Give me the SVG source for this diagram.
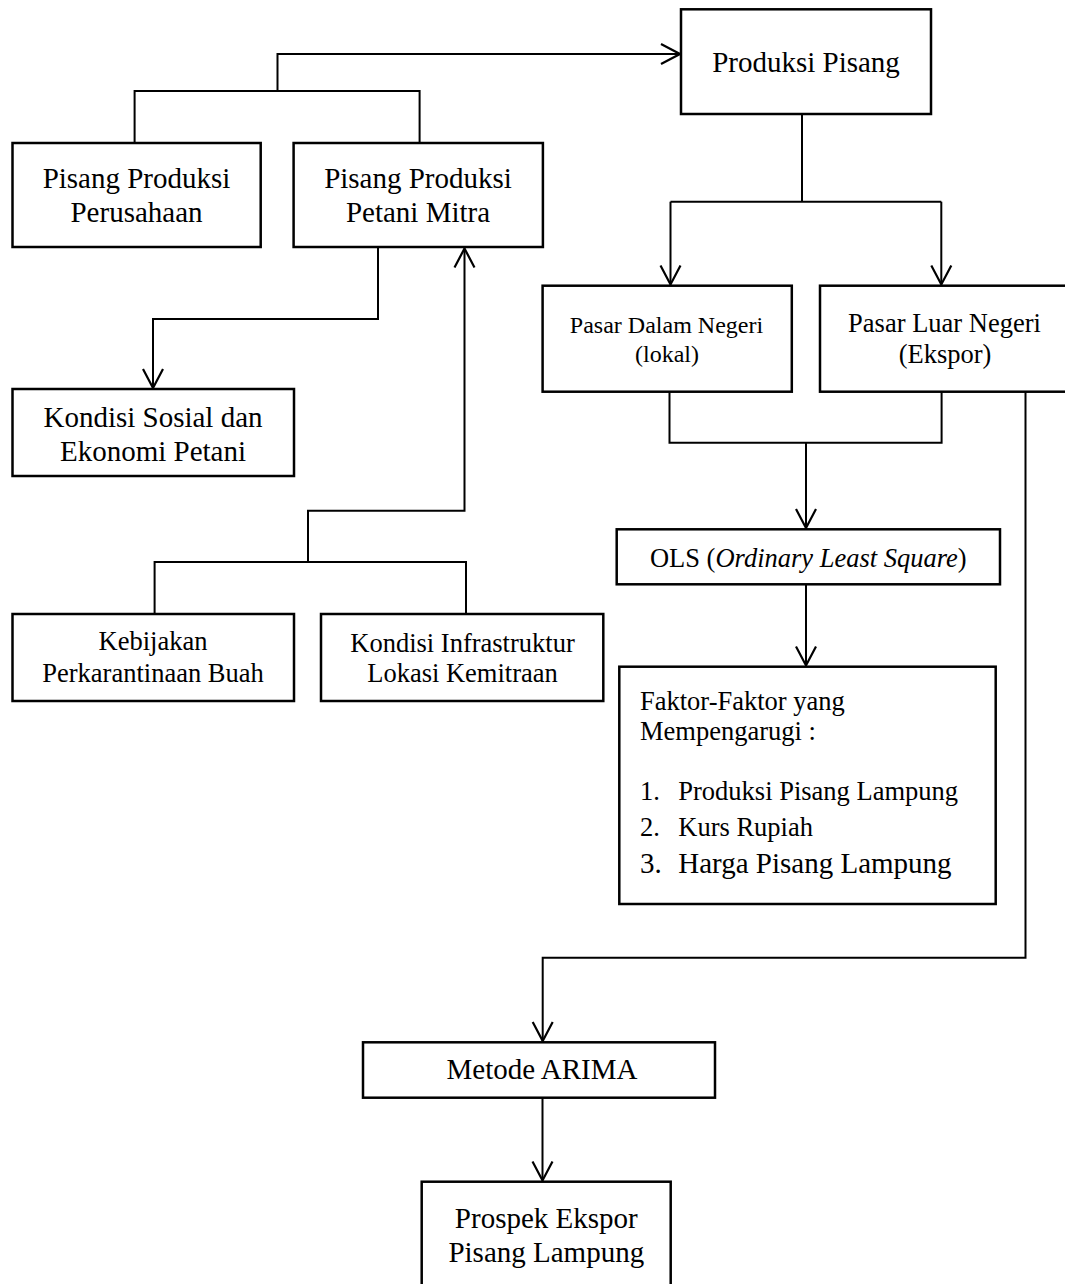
<svg xmlns="http://www.w3.org/2000/svg" width="1065" height="1284" viewBox="0 0 1065 1284">
<style>
  .box { fill: #ffffff; stroke: #000000; stroke-width: 2.5; }
  .ln { fill: none; stroke: #000000; stroke-width: 2; }
  text { font-family: "Liberation Serif", "Times New Roman", serif; fill: #000000; }
  .t29 { font-size: 29px; text-anchor: middle; }
  .t27 { font-size: 26.5px; text-anchor: middle; }
  .t24 { font-size: 24px; text-anchor: middle; }
  .l27 { font-size: 26.5px; }
  .l29 { font-size: 29px; }
</style>
<defs>
  <marker id="arr" viewBox="-22 -12 24 24" refX="0" refY="0" markerWidth="24" markerHeight="24" markerUnits="userSpaceOnUse" orient="auto">
    <path d="M -19,-10 L 0,0 L -19,10" fill="none" stroke="#000000" stroke-width="2.2"/>
  </marker>
</defs>
<rect width="1065" height="1284" fill="#ffffff"/>

<g id="connectors">
  <polyline class="ln" points="277.5,91 277.5,54 680,54" marker-end="url(#arr)"/>
  <polyline class="ln" points="134.6,143 134.6,91 419.6,91 419.6,143"/>
  <polyline class="ln" points="802,114 802,201.7"/>
  <polyline class="ln" points="670.5,201.7 941.3,201.7"/>
  <line class="ln" x1="670.5" y1="201.7" x2="670.5" y2="284.5" marker-end="url(#arr)"/>
  <line class="ln" x1="941.3" y1="201.7" x2="941.3" y2="284.5" marker-end="url(#arr)"/>
  <polyline class="ln" points="669.5,391.7 669.5,442.7 941.6,442.7 941.6,391.7"/>
  <line class="ln" x1="806" y1="442.7" x2="806" y2="528" marker-end="url(#arr)"/>
  <line class="ln" x1="806" y1="584.3" x2="806" y2="665.5" marker-end="url(#arr)"/>
  <polyline class="ln" points="1025.5,391.7 1025.5,957.7 542.7,957.7 542.7,1041" marker-end="url(#arr)"/>
  <line class="ln" x1="542.5" y1="1097.7" x2="542.5" y2="1180.5" marker-end="url(#arr)"/>
  <polyline class="ln" points="378,247 378,319 153,319 153,388" marker-end="url(#arr)"/>
  <polyline class="ln" points="308,562 308,510.7 464.5,510.7 464.5,248.5" marker-end="url(#arr)"/>
  <polyline class="ln" points="154.6,614 154.6,562 466,562 466,614"/>
</g>

<g id="produksi-pisang">
  <rect class="box" x="681" y="9.3" width="250" height="104.7"/>
  <text class="t29" x="806" y="71.7">Produksi Pisang</text>
</g>
<g id="pisang-perusahaan">
  <rect class="box" x="12.5" y="143" width="248.2" height="104"/>
  <text class="t29" x="136.5" y="187.7">Pisang Produksi</text>
  <text class="t29" x="136.5" y="221.7">Perusahaan</text>
</g>
<g id="pisang-petani-mitra">
  <rect class="box" x="293.6" y="143" width="249.3" height="104"/>
  <text class="t29" x="418" y="187.7">Pisang Produksi</text>
  <text class="t29" x="418" y="221.7">Petani Mitra</text>
</g>
<g id="pasar-dalam-negeri">
  <rect class="box" x="542.6" y="285.7" width="249.2" height="106"/>
  <text class="t24" x="666.5" y="333.3">Pasar Dalam Negeri</text>
  <text class="t24" x="667" y="361.7">(lokal)</text>
</g>
<g id="pasar-luar-negeri">
  <rect class="box" x="820" y="285.7" width="260" height="106"/>
  <text class="t27" x="944.5" y="332.3">Pasar Luar Negeri</text>
  <text class="t27" x="945" y="363.3">(Ekspor)</text>
</g>
<g id="kondisi-sosial">
  <rect class="box" x="12.5" y="389" width="281.5" height="87"/>
  <text class="t29" x="153" y="426.7">Kondisi Sosial dan</text>
  <text class="t29" x="153" y="460.7">Ekonomi Petani</text>
</g>
<g id="kebijakan">
  <rect class="box" x="12.5" y="614" width="281.5" height="87"/>
  <text class="t27" x="153" y="650">Kebijakan</text>
  <text class="t27" x="153" y="681.7">Perkarantinaan Buah</text>
</g>
<g id="infrastruktur">
  <rect class="box" x="321" y="614" width="282.3" height="87"/>
  <text class="t27" x="462.5" y="651.7">Kondisi Infrastruktur</text>
  <text class="t27" x="462.5" y="681.7">Lokasi Kemitraan</text>
</g>
<g id="ols">
  <rect class="box" x="616.7" y="529.3" width="383.3" height="55"/>
  <text class="t27" x="808.3" y="566.7">OLS (<tspan font-style="italic">Ordinary Least Square</tspan>)</text>
</g>
<g id="faktor">
  <rect class="box" x="619.3" y="666.7" width="376.4" height="237.3"/>
  <text class="l27" x="640" y="710">Faktor-Faktor yang</text>
  <text class="l27" x="640" y="740">Mempengarugi :</text>
  <text class="l27" x="640" y="800">1.</text>
  <text class="l27" x="678.3" y="800">Produksi Pisang Lampung</text>
  <text class="l27" x="640" y="836">2.</text>
  <text class="l27" x="678.3" y="836">Kurs Rupiah</text>
  <text class="l29" x="640" y="873.3">3.</text>
  <text class="l29" x="678.3" y="873.3">Harga Pisang Lampung</text>
</g>
<g id="metode-arima">
  <rect class="box" x="363" y="1042.3" width="352" height="55.4"/>
  <text class="t29" x="542" y="1079.3">Metode ARIMA</text>
</g>
<g id="prospek">
  <rect class="box" x="421.7" y="1181.7" width="249" height="110"/>
  <text class="t29" x="546.3" y="1228.3">Prospek Ekspor</text>
  <text class="t29" x="546.3" y="1261.7">Pisang Lampung</text>
</g>
</svg>
